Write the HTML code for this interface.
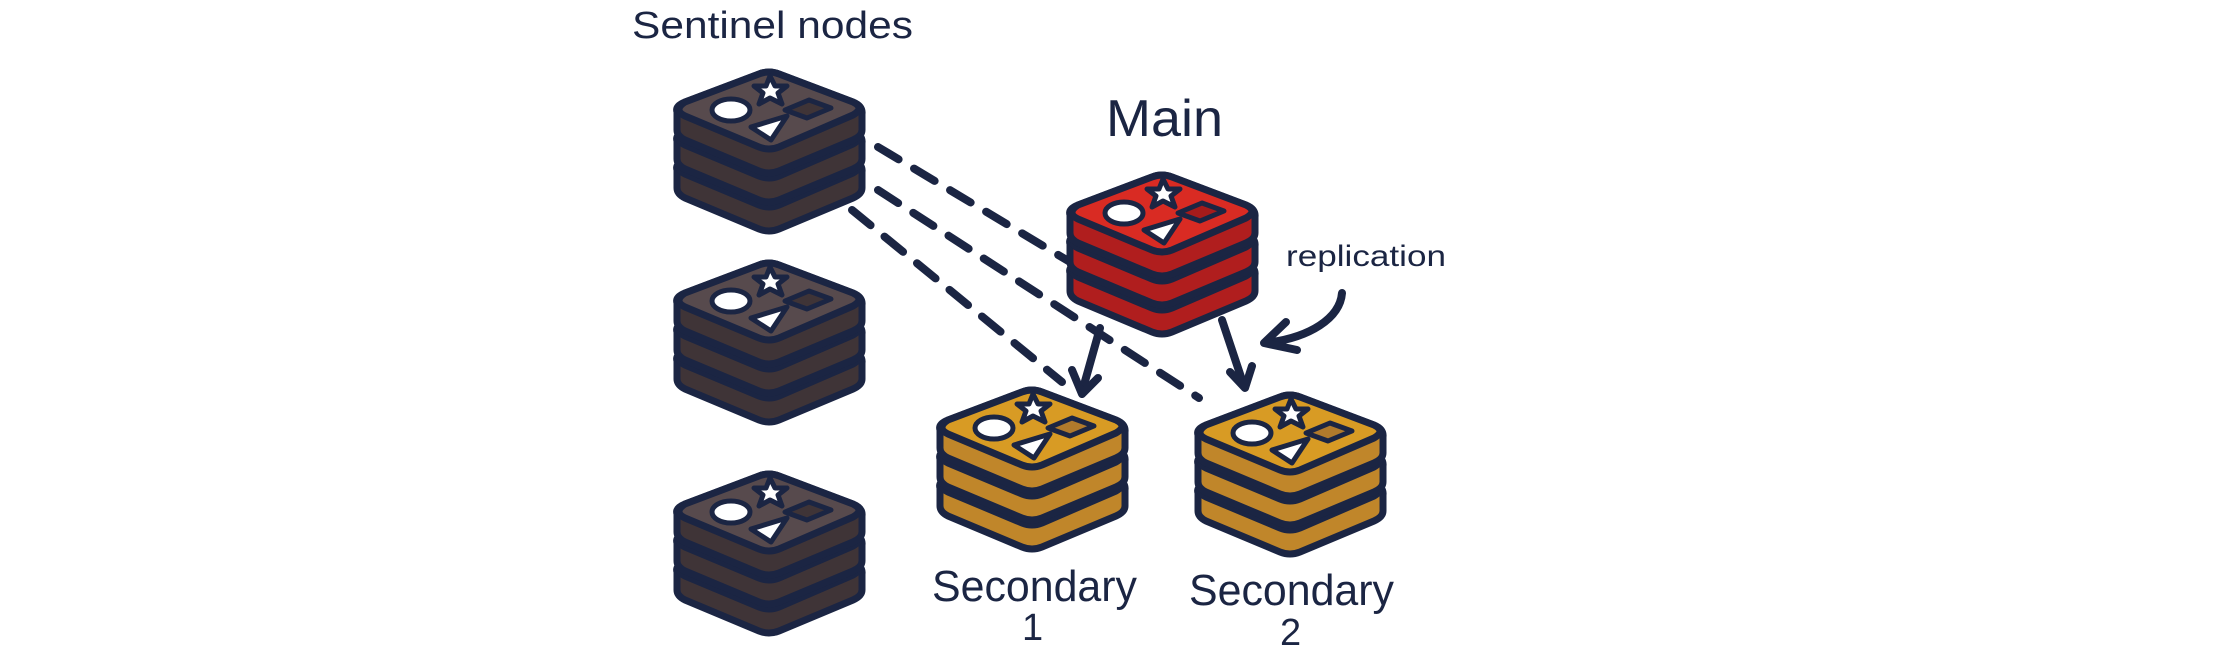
<!DOCTYPE html>
<html><head><meta charset="utf-8"><style>
html,body{margin:0;padding:0;background:#fff;}
body{width:2238px;height:654px;overflow:hidden;position:relative;}
svg{position:absolute;left:0;top:0;}
text{font-family:"Liberation Sans Narrow","Liberation Sans",sans-serif;fill:#1b2543;}
</style></head><body>
<svg width="2238" height="654" viewBox="0 0 2238 654">
<defs>
<path id="slab" d="M2,42 Q0,36 10,32 L84,4 Q94,0 104,4 L178,32 Q188,36 187,44 L187,60 Q187,66 178,70 L104,101 Q94,105 84,101 L10,70 Q2,66 2,60 Z"/>
<path id="face" d="M10,32 L84,4 Q94,0 104,4 L178,32 Q190,38 178,45 L104,77 Q94,81 84,77 L10,46 Q-2,40 10,32Z"/>
<g id="stack">
 <g stroke="#1b2543" stroke-width="7" stroke-linejoin="round">
  <use href="#slab" y="58" fill="var(--side)"/>
  <use href="#face" y="58" fill="var(--top)"/>
  <use href="#slab" y="29" fill="var(--side)"/>
  <use href="#face" y="29" fill="var(--top)"/>
  <use href="#slab" fill="var(--side)"/>
  <use href="#face" fill="var(--top)"/>
 </g>
 <polygon points="110,40 134,30 156,38 132,48" fill="var(--dia)" stroke="#1b2543" stroke-width="5" stroke-linejoin="round"/>
 <ellipse cx="56" cy="40" rx="19" ry="11" fill="#fff" stroke="#1b2543" stroke-width="5"/>
 <polygon points="95,6 100,16 112,16 103,23 107,34 95,28 84,34 88,23 79,16 91,16" fill="#fff" stroke="#1b2543" stroke-width="5" stroke-linejoin="round"/>
 <polygon points="76,57 112,46 96,70" fill="#fff" stroke="#1b2543" stroke-width="5" stroke-linejoin="round"/>
</g>
</defs>

<!-- dashed lines -->
<g stroke="#1b2543" stroke-width="8" stroke-dasharray="24,18" stroke-linecap="round" fill="none">
  <line x1="878" y1="147" x2="1070" y2="262"/>
  <line x1="878" y1="190" x2="1199" y2="398"/>
  <line x1="852" y1="210" x2="1062" y2="382"/>
</g>

<g transform="translate(675,70)" style="--side:#3f3437;--top:#574a4d;--dia:#3f3437"><use href="#stack"/></g>
<g transform="translate(675,261)" style="--side:#3f3437;--top:#574a4d;--dia:#3f3437"><use href="#stack"/></g>
<g transform="translate(675,472)" style="--side:#3f3437;--top:#574a4d;--dia:#3f3437"><use href="#stack"/></g>
<g transform="translate(1068,173)" style="--side:#b01e1e;--top:#d92b23;--dia:#a51b1b"><use href="#stack"/></g>
<g transform="translate(938,388)" style="--side:#c0862a;--top:#d89b24;--dia:#b07a2c"><use href="#stack"/></g>
<g transform="translate(1196,393)" style="--side:#c0862a;--top:#d89b24;--dia:#b07a2c"><use href="#stack"/></g>

<!-- arrows -->
<g stroke="#1b2543" stroke-width="8" stroke-linecap="round" stroke-linejoin="round" fill="none">
  <path d="M1100,328 L1082,392"/>
  <path d="M1072,370 L1082,394 L1098,378"/>
  <path d="M1222,320 L1244,386"/>
  <path d="M1230,372 L1245,388 L1252,366"/>
  <path d="M1342,293 C1340,318 1310,338 1265,343"/>
  <path d="M1286,322 L1264,343 L1297,350"/>
</g>

<!-- labels -->
<text x="632" y="38" font-size="38" textLength="281" lengthAdjust="spacingAndGlyphs">Sentinel nodes</text>
<text x="1106" y="136" font-size="52" textLength="117" lengthAdjust="spacingAndGlyphs">Main</text>
<text x="1286" y="266" font-size="30" textLength="160" lengthAdjust="spacingAndGlyphs">replication</text>
<text x="932" y="601" font-size="44" textLength="205" lengthAdjust="spacingAndGlyphs">Secondary</text>
<text x="1022" y="640" font-size="38">1</text>
<text x="1189" y="605" font-size="44" textLength="205" lengthAdjust="spacingAndGlyphs">Secondary</text>
<text x="1280" y="645" font-size="38">2</text>
</svg>
</body></html>
